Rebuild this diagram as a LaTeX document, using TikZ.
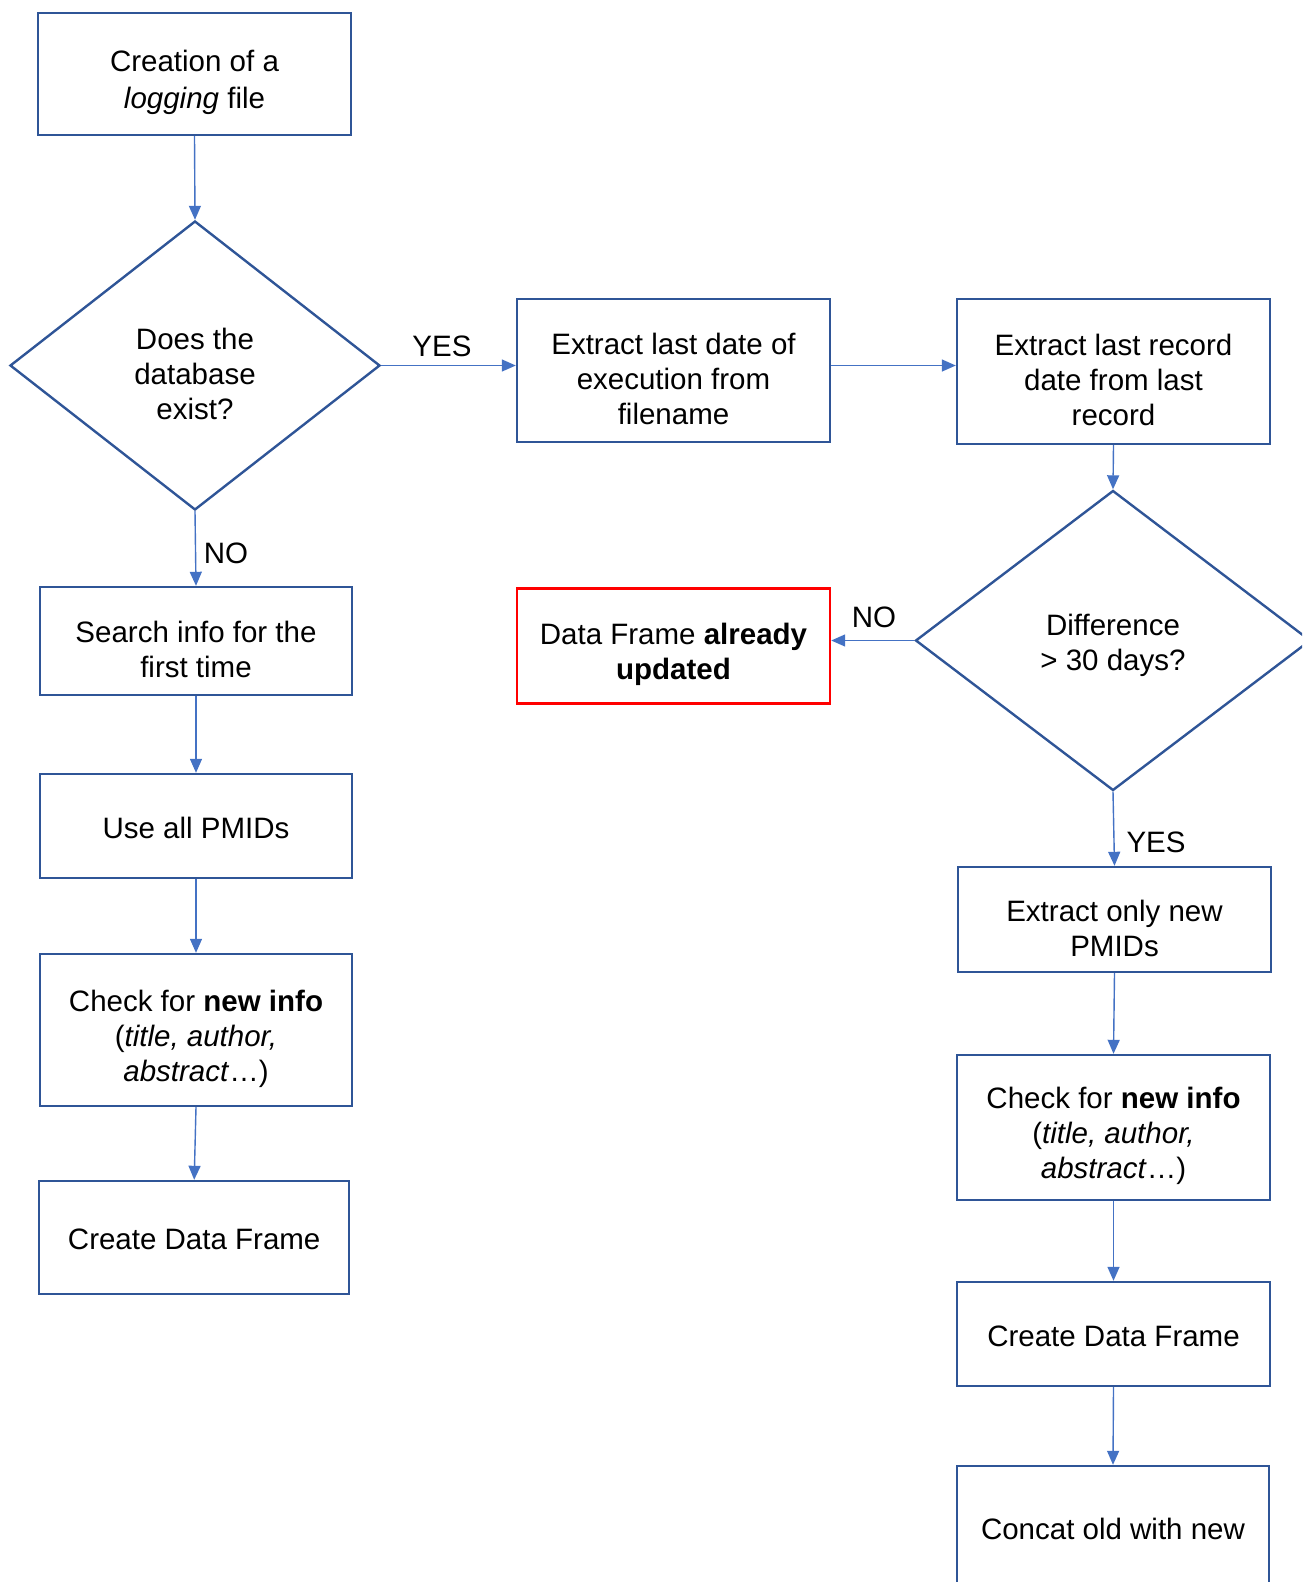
\documentclass[tikz,border=0pt]{standalone}
\usepackage{fontspec}
\setmainfont{Liberation Sans}
\usetikzlibrary{shapes.geometric,arrows.meta}
\definecolor{boxblue}{RGB}{47,85,151}
\definecolor{linkblue}{RGB}{68,114,196}
\definecolor{alertred}{RGB}{255,0,0}
% invisible struts that set how low multi-line text sits in its shape
\newcommand{\tallstrut}{\rule{0pt}{39pt}}
\newcommand{\midstrut}{\rule{0pt}{32pt}}
\begin{document}
\begin{tikzpicture}[x=1pt,y=-1pt,
  every node/.style={font=\fontsize{29.5}{35}\selectfont, inner sep=0pt, align=center},
  firstline/.style={execute at begin node={\rule{0pt}{#1}}},
  firstline/.default=25pt,
  stepbox/.style={draw=boxblue, line width=2.4pt, rectangle, firstline},
  alertbox/.style={draw=alertred, line width=2.4pt, rectangle, firstline},
  decision/.style={draw=boxblue, line width=2.4pt, diamond, firstline},
  flow/.style={draw=linkblue, line width=1.4pt, -{Triangle[length=14pt,width=12pt]}},
  lbl/.style={}]
\useasboundingbox (0,0) rectangle (1302,1582);
\clip (0,0) rectangle (1302,1582);

% left branch: first run
\node[stepbox, minimum width=313, minimum height=122] (logf) at (194.5,74) {\tallstrut Creation of a\\[2pt]\textit{logging} file};
\node[decision, minimum width=370, minimum height=289] (d1) at (195,365.5) {\tallstrut Does the\\database\\exist?};
\node[stepbox, minimum width=312, minimum height=108] (search) at (196,641) {\tallstrut Search info for the\\first time};
\node[stepbox, minimum width=312, minimum height=104] (useall) at (196,826) {Use all PMIDs};
\node[stepbox, minimum width=312, minimum height=152] (chk1) at (196,1030) {\tallstrut Check for \textbf{new info}\\(\textit{title, author,}\\\textit{abstract}\dots)};
\node[stepbox, minimum width=310, minimum height=113] (df1) at (194.2,1237.5) {Create Data Frame};

% middle column
\node[stepbox, minimum width=313, minimum height=143] (ext1) at (673.5,370.5) {\tallstrut Extract last date of\\execution from\\filename};
\node[alertbox, minimum width=313, minimum height=115] (upd) at (673.5,646) {\tallstrut Data Frame \textbf{already}\\\textbf{updated}};

% right branch: update run
\node[stepbox, minimum width=313, minimum height=145] (ext2) at (1113.5,371.5) {\tallstrut Extract last record\\date from last\\record};
\node[decision, minimum width=395, minimum height=300] (d2) at (1113,640.5) {\midstrut Difference\\> 30 days?};
\node[stepbox, minimum width=313, minimum height=105] (newp) at (1114.5,919.5) {\tallstrut Extract only new\\PMIDs};
\node[stepbox, minimum width=313, minimum height=145] (chk2) at (1113.5,1127.5) {\tallstrut Check for \textbf{new info}\\(\textit{title, author,}\\\textit{abstract}\dots)};
\node[stepbox, minimum width=313, minimum height=104] (df2) at (1113.5,1334) {Create Data Frame};
\node[stepbox, minimum width=312, minimum height=122] (cat) at (1113,1527) {Concat old with new};

% connectors
\draw[flow] (logf.south) -- (d1.north);
\draw[flow] (d1.east) -- (d1.east -| ext1.west);
\draw[flow] (d1.south) -- (search.north);
\draw[flow] (search.south) -- (useall.north);
\draw[flow] (useall.south) -- (chk1.north);
\draw[flow] (chk1.south) -- (df1.north);
\draw[flow] (d1.east -| ext1.east) -- (d1.east -| ext2.west);
\draw[flow] (ext2.south) -- (d2.north);
\draw[flow] (d2.west) -- (d2.west -| upd.east);
\draw[flow] (d2.south) -- (newp.north);
\draw[flow] (newp.south) -- (chk2.north);
\draw[flow] (chk2.south) -- (df2.north);
\draw[flow] (df2.south) -- (cat.north);

% branch labels
\node[lbl] (yes1) at (442,346) {YES};
\node[lbl] (no1) at (226,553) {NO};
\node[lbl] (no2) at (874,617) {NO};
\node[lbl] (yes2) at (1156,842) {YES};
\end{tikzpicture}
\end{document}
